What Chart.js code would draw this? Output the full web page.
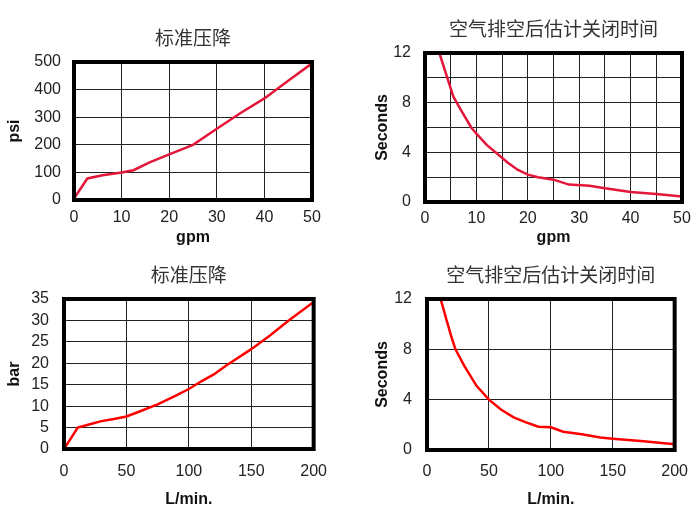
<!DOCTYPE html>
<html>
<head>
<meta charset="utf-8">
<script src="https://cdn.jsdelivr.net/npm/chart.js@4.4.1/dist/chart.umd.min.js"></script>
<style>
  html, body { margin: 0; padding: 0; background: #fff; overflow: hidden; width: 700px; height: 508px; }
  .box { position: absolute; }
</style>
</head>
<body>
<div class="box" style="left:0px;top:0px;width:330px;height:250px"><canvas id="c1" width="330" height="250"></canvas></div>
<div class="box" style="left:350px;top:0px;width:350px;height:250px"><canvas id="c2" width="350" height="250"></canvas></div>
<div class="box" style="left:0px;top:250px;width:340px;height:258px"><canvas id="c3" width="340" height="258"></canvas></div>
<div class="box" style="left:350px;top:250px;width:350px;height:258px"><canvas id="c4" width="350" height="258"></canvas></div>
<script>
// ---- Data ----
const titlePressure = "标准压降";
const titleTime = "空气排空后估计关闭时间";

// Chart 1: pressure drop, psi vs gpm
const gpmPressure = [0, 2.8, 6, 10, 12.5, 16, 20, 25, 30, 35, 40, 45, 50];
const psiValues   = [5, 78, 90, 100, 108, 137, 165, 200, 258, 315, 368, 432, 495];

// Chart 2: closing time, seconds vs gpm
const gpmTime     = [2.8, 4.5, 5.5, 7, 9, 10, 12, 14, 16, 18, 20, 22, 25, 28, 32, 35, 40, 45, 50];
const secondsGpm  = [12, 9.8, 8.5, 7.4, 6.0, 5.5, 4.6, 3.9, 3.2, 2.6, 2.2, 2.0, 1.8, 1.4, 1.3, 1.1, 0.8, 0.65, 0.45];

// Chart 3: pressure drop, bar vs L/min
const lpmPressure = [0, 11, 20, 30, 40, 50, 60, 75, 90, 100, 110, 120, 130, 150, 165, 180, 200];
const barValues   = [0, 5, 5.7, 6.5, 7.0, 7.6, 8.7, 10.4, 12.5, 14, 15.8, 17.4, 19.5, 23.3, 26.5, 30, 34.3];

// Chart 4: closing time, seconds vs L/min
const lpmTime     = [11, 15, 20, 23, 30, 40, 50, 60, 70, 80, 90, 100, 110, 125, 140, 150, 175, 200];
const secondsLpm  = [12, 10.6, 8.9, 8.0, 6.7, 5.1, 4.0, 3.2, 2.6, 2.2, 1.85, 1.8, 1.45, 1.25, 1.0, 0.9, 0.7, 0.45];

// ---- Styling helpers ----
const tickFont = { family: "'Liberation Sans', Arial, sans-serif", size: 16 };
const axisTitleFont = { family: "'Liberation Sans', Arial, sans-serif", size: 16, weight: 'bold', lineHeight: 1 };
const titleFont = { family: "'Noto Sans CJK SC', sans-serif", size: 19, weight: 'normal', lineHeight: 1.2 };

const frame = {
  id: 'frame',
  afterDatasetsDraw(chart) {
    const a = chart.chartArea, ctx = chart.ctx;
    ctx.save();
    ctx.strokeStyle = '#000';
    ctx.lineWidth = 4;
    ctx.strokeRect(a.left, a.top, a.right - a.left, a.bottom - a.top);
    ctx.restore();
  }
};

function pts(xs, ys) { return xs.map((x, i) => ({ x: x, y: ys[i] })); }

function make(id, cfg) {
  return new Chart(document.getElementById(id), {
    type: 'line',
    data: { datasets: [{
      data: pts(cfg.xs, cfg.ys),
      borderColor: cfg.color,
      borderWidth: 2.5,
      pointRadius: 0,
      tension: 0,
      fill: false
    }]},
    plugins: [frame],
    options: {
      responsive: false,
      animation: false,
      devicePixelRatio: 1,
      layout: { padding: { left: 0, right: cfg.rp, top: 0, bottom: 0 } },
      plugins: {
        legend: { display: false },
        tooltip: { enabled: false },
        title: {
          display: true, text: cfg.title, color: '#333', font: titleFont,
          fullSize: false,
          padding: { top: cfg.tpt, bottom: cfg.tpb }
        }
      },
      scales: {
        x: {
          type: 'linear', min: cfg.xmin, max: cfg.xmax,
          afterFit: s => { s.height = cfg.xh; },
          ticks: {
            stepSize: cfg.xstep, autoSkip: false, maxRotation: 0, color: '#222', font: tickFont,
            padding: cfg.xpad,
            callback: v => (v % cfg.xlab === 0 ? String(v) : '')
          },
          grid: { color: '#222', lineWidth: 1, drawTicks: false },
          border: { display: false },
          title: { display: true, text: cfg.xtitle, color: '#111', font: axisTitleFont, padding: { top: 0, bottom: cfg.xtp } }
        },
        y: {
          type: 'linear', min: cfg.ymin, max: cfg.ymax,
          afterFit: s => { s.width = cfg.yw; },
          ticks: {
            stepSize: cfg.ystep, autoSkip: false, color: '#222', font: tickFont,
            padding: cfg.ypad,
            callback: v => (v % cfg.ylab === 0 ? String(v) : '')
          },
          grid: { color: '#222', lineWidth: 1, drawTicks: false },
          border: { display: false },
          title: { display: true, text: cfg.ytitle, color: '#111', font: axisTitleFont, padding: { top: cfg.ytp, bottom: 0 } }
        }
      }
    }
  });
}

make('c1', {
  xs: gpmPressure, ys: psiValues, color: '#e3173a', title: titlePressure,
  rp: 18, tpt: 26.6, tpb: 12.6,
  xmin: 0, xmax: 50, xstep: 10, xlab: 10, xh: 50, xpad: 8, xtitle: 'gpm', xtp: 4,
  ymin: 0, ymax: 500, ystep: 100, ylab: 100, yw: 74, ypad: 13, ytitle: 'psi', ytp: 7
});

make('c2', {
  xs: gpmTime, ys: secondsGpm, color: '#e3173a', title: titleTime,
  rp: 18, tpt: 17.6, tpb: 12.6,
  xmin: 0, xmax: 50, xstep: 5, xlab: 10, xh: 48, xpad: 7, xtitle: 'gpm', xtp: 4,
  ymin: 0, ymax: 12, ystep: 2, ylab: 4, yw: 75, ypad: 14, ytitle: 'Seconds', ytp: 25
});

make('c3', {
  xs: lpmPressure, ys: barValues, color: '#ff0000', title: titlePressure,
  rp: 19, tpt: 13.6, tpb: 12.6,
  xmin: 0, xmax: 200, xstep: 50, xlab: 50, xh: 59, xpad: 13, xtitle: 'L/min.', xtp: 0,
  ymin: 0, ymax: 35, ystep: 5, ylab: 5, yw: 64, ypad: 15, ytitle: 'bar', ytp: 7
});

make('c4', {
  xs: lpmTime, ys: secondsLpm, color: '#ff0000', title: titleTime,
  rp: 18, tpt: 13.6, tpb: 12.6,
  xmin: 0, xmax: 200, xstep: 50, xlab: 50, xh: 58, xpad: 12, xtitle: 'L/min.', xtp: 0,
  ymin: 0, ymax: 12, ystep: 4, ylab: 4, yw: 77, ypad: 15, ytitle: 'Seconds', ytp: 25
});
</script>
</body>
</html>
